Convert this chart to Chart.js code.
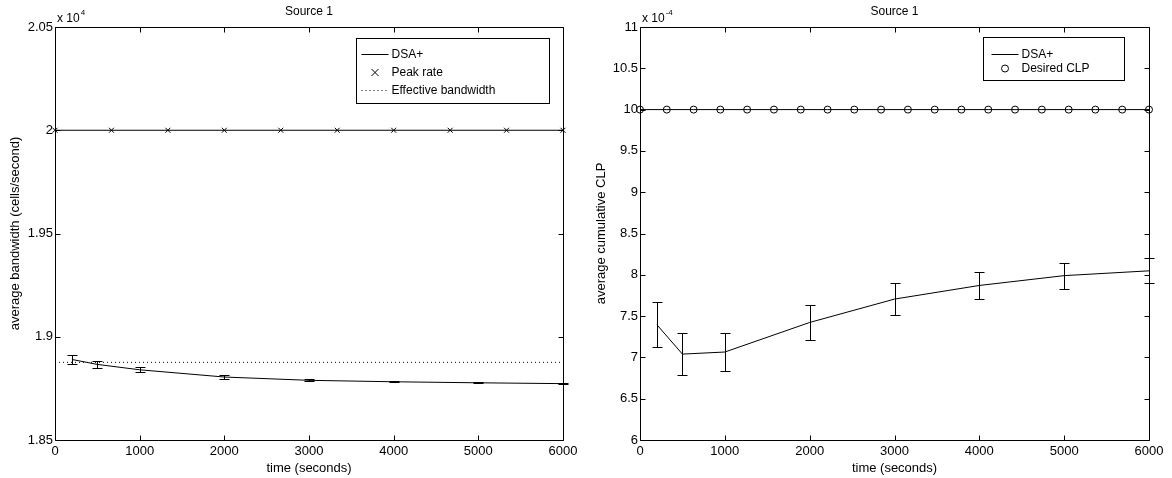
<!DOCTYPE html>
<html>
<head>
<meta charset="utf-8">
<script src="https://cdn.jsdelivr.net/npm/chart.js@4.4.1/dist/chart.umd.min.js"></script>
<style>
    html, body { margin: 0; padding: 0; background: #fff; }
    #wrap { position: relative; width: 1172px; height: 478px; }
    .pane { position: absolute; top: 0; width: 586px; height: 478px; }
</style>
</head>
<body>
<div id="wrap">
    <div class="pane" style="left:0"><canvas id="bw" width="586" height="478"></canvas></div>
    <div class="pane" style="left:586px"><canvas id="clp" width="586" height="478"></canvas></div>
</div>
<script>
// Shared x axis (time in seconds).
var timeTicks = [0, 1000, 2000, 3000, 4000, 5000, 6000];
var sampleTimes = [200, 500, 1000, 2000, 3000, 4000, 5000, 6000];

// Left panel: bandwidth, in units of 1e4 cells/second.
var bwTicks = [1.85, 1.9, 1.95, 2, 2.05];
var bandwidth = [1.8890, 1.8866, 1.8840, 1.8805, 1.8789, 1.8782, 1.8777, 1.8773];
var bandwidthErr = [0.0023, 0.0015, 0.0013, 0.0009, 0.0005, 0.0003, 0.0003, 0.0002];
var peakTimes = [0, 667, 1333, 2000, 2667, 3333, 4000, 4667, 5333, 6000];
var peakRate = [2, 2, 2, 2, 2, 2, 2, 2, 2, 2];
var effTimes = [0, 6000];
var effBandwidth = [1.8876, 1.8876];

// Right panel: cumulative CLP, in units of 1e-4.
var clpTicks = [6, 6.5, 7, 7.5, 8, 8.5, 9, 9.5, 10, 10.5, 11];
var clp = [7.395, 7.04, 7.065, 7.423, 7.706, 7.871, 7.99, 8.048];
var clpErr = [0.275, 0.25, 0.225, 0.21, 0.19, 0.167, 0.157, 0.15];
var desiredTimes = [0, 316, 632, 947, 1263, 1579, 1895, 2211, 2526, 2842,
    3158, 3474, 3789, 4105, 4421, 4737, 5053, 5368, 5684, 6000];
var desiredClp = [10, 10, 10, 10, 10, 10, 10, 10, 10, 10,
    10, 10, 10, 10, 10, 10, 10, 10, 10, 10];

var FONT = "'Liberation Sans', Arial, Helvetica, sans-serif";
Chart.defaults.font.family = FONT;
Chart.defaults.color = '#000';

function points(xs, ys) {
    return xs.map(function(x, i) { return {x: x, y: ys[i]}; });
}

// Vertical error bars with caps, for datasets that carry an "errors" array.
var errorBars = {
    id: 'errorBars',
    afterDatasetsDraw: function(chart) {
        var ctx = chart.ctx, xs = chart.scales.x, ys = chart.scales.y;
        ctx.save();
        ctx.strokeStyle = '#000';
        ctx.lineWidth = 1;
        chart.data.datasets.forEach(function(ds) {
            if (!ds.errors) { return; }
            ds.data.forEach(function(p, i) {
                var px = Math.round(xs.getPixelForValue(p.x)) + 0.5;
                var top = Math.round(ys.getPixelForValue(p.y + ds.errors[i])) + 0.5;
                var bot = Math.round(ys.getPixelForValue(p.y - ds.errors[i])) + 0.5;
                ctx.beginPath();
                ctx.moveTo(px, top); ctx.lineTo(px, bot);
                ctx.moveTo(px - 5, top); ctx.lineTo(px + 5, top);
                ctx.moveTo(px - 5, bot); ctx.lineTo(px + 5, bot);
                ctx.stroke();
            });
        });
        ctx.restore();
    }
};

// MATLAB style box: frame, inward ticks on all sides, title and exponent.
var matlabFrame = {
    id: 'matlabFrame',
    afterDatasetsDraw: function(chart, args, opts) {
        var ctx = chart.ctx, a = chart.chartArea;
        var xs = chart.scales.x, ys = chart.scales.y;
        var l = Math.round(a.left) + 0.5, r = Math.round(a.right) + 0.5;
        var t = Math.round(a.top) + 0.5, b = Math.round(a.bottom) + 0.5;
        ctx.save();
        ctx.strokeStyle = '#000';
        ctx.lineWidth = 1;
        ctx.beginPath();
        ctx.rect(l, t, r - l, b - t);
        xs.ticks.forEach(function(tk) {
            var px = Math.round(xs.getPixelForValue(tk.value)) + 0.5;
            ctx.moveTo(px, b); ctx.lineTo(px, b - 5);
            ctx.moveTo(px, t); ctx.lineTo(px, t + 5);
        });
        ys.ticks.forEach(function(tk) {
            var py = Math.round(ys.getPixelForValue(tk.value)) + 0.5;
            ctx.moveTo(l, py); ctx.lineTo(l + 5, py);
            ctx.moveTo(r, py); ctx.lineTo(r - 5, py);
        });
        ctx.stroke();

        ctx.fillStyle = '#000';
        ctx.textBaseline = 'middle';
        ctx.textAlign = 'center';
        ctx.font = '12px ' + FONT;
        ctx.fillText(opts.title, (a.left + a.right) / 2, 12);
        ctx.textAlign = 'left';
        ctx.font = '12px ' + FONT;
        ctx.fillText('x 10', a.left + 2, 19);
        var w = ctx.measureText('x 10').width;
        ctx.font = '8px ' + FONT;
        ctx.fillText(opts.exponent, a.left + 3 + w, 13);
        ctx.restore();
    }
};

// Boxed legend in the upper right corner of the axes.
var boxLegend = {
    id: 'boxLegend',
    afterDraw: function(chart, args, opts) {
        var ctx = chart.ctx, a = chart.chartArea;
        var bx = Math.round(a.right - opts.right - opts.width) + 0.5;
        var by = Math.round(a.top + opts.top) + 0.5;
        ctx.save();
        ctx.fillStyle = '#fff';
        ctx.strokeStyle = '#000';
        ctx.lineWidth = 1;
        ctx.fillRect(bx, by, opts.width, opts.height);
        ctx.strokeRect(bx, by, opts.width, opts.height);
        ctx.font = '12px ' + FONT;
        ctx.textBaseline = 'middle';
        ctx.textAlign = 'left';
        opts.items.forEach(function(item, i) {
            var cy = Math.round(by + opts.firstRow + i * opts.rowGap) + 0.5;
            var x0 = bx + opts.sampleLeft, x1 = x0 + 27, cx = (x0 + x1) / 2;
            ctx.beginPath();
            if (item.kind === 'line' || item.kind === 'dots') {
                ctx.setLineDash(item.kind === 'dots' ? [1, 3] : []);
                ctx.moveTo(x0, cy); ctx.lineTo(x1, cy);
            } else if (item.kind === 'cross') {
                ctx.moveTo(cx - 3.5, cy - 3.5); ctx.lineTo(cx + 3.5, cy + 3.5);
                ctx.moveTo(cx - 3.5, cy + 3.5); ctx.lineTo(cx + 3.5, cy - 3.5);
            } else if (item.kind === 'circle') {
                ctx.arc(cx, cy, 3.5, 0, Math.PI * 2);
            }
            ctx.stroke();
            ctx.setLineDash([]);
            ctx.fillStyle = '#000';
            ctx.fillText(item.label, x1 + 3, cy);
        });
        ctx.restore();
    }
};

function makeScales(yTicks, yTitle, yWidth) {
    return {
        x: {
            type: 'linear', min: timeTicks[0], max: timeTicks[timeTicks.length - 1],
            afterBuildTicks: function(s) { s.ticks = timeTicks.map(function(v) { return {value: v}; }); },
            afterFit: function(s) { s.height = 38; },
            grid: {display: false, drawTicks: false}, border: {display: false},
            ticks: {color: '#000', font: {size: 13}, padding: 4, maxRotation: 0, autoSkip: false,
                callback: function(v) { return String(v); }},
            title: {display: true, text: 'time (seconds)', color: '#000', font: {size: 13},
                padding: {top: 0, bottom: 2}}
        },
        y: {
            type: 'linear', min: yTicks[0], max: yTicks[yTicks.length - 1],
            afterBuildTicks: function(s) { s.ticks = yTicks.map(function(v) { return {value: v}; }); },
            afterFit: function(s) { s.width = yWidth; },
            grid: {display: false, drawTicks: false}, border: {display: false},
            ticks: {color: '#000', font: {size: 13}, padding: 2, autoSkip: false,
                callback: function(v) { return String(v); }},
            title: {display: true, text: yTitle, color: '#000', font: {size: 13},
                padding: {top: 8, bottom: 0}}
        }
    };
}

function baseOptions(scales, frame, legend) {
    return {
        responsive: false,
        animation: false,
        layout: {padding: {left: 0, right: 23, top: 27, bottom: 0}},
        scales: scales,
        plugins: {
            legend: {display: false},
            tooltip: {enabled: false},
            matlabFrame: frame,
            boxLegend: legend
        }
    };
}

new Chart(document.getElementById('bw'), {
    type: 'scatter',
    data: {
        datasets: [{
            label: 'DSA+',
            data: points(sampleTimes, bandwidth),
            errors: bandwidthErr,
            showLine: true, borderColor: '#000', borderWidth: 1, pointRadius: 0
        }, {
            label: 'Peak rate',
            data: points(peakTimes, peakRate),
            showLine: true, borderColor: '#000', borderWidth: 1, clip: false,
            pointStyle: 'crossRot', pointRadius: 3.5, pointBorderColor: '#000', pointBorderWidth: 1
        }, {
            label: 'Effective bandwidth',
            data: points(effTimes, effBandwidth),
            showLine: true, borderColor: '#000', borderWidth: 1, borderDash: [1, 3], pointRadius: 0
        }]
    },
    options: baseOptions(
        makeScales(bwTicks, 'average bandwidth (cells/second)', 55),
        {title: 'Source 1', exponent: '4'},
        {right: 14, top: 11, width: 193, height: 65, firstRow: 15, rowGap: 18, sampleLeft: 5,
            items: [{label: 'DSA+', kind: 'line'}, {label: 'Peak rate', kind: 'cross'},
                {label: 'Effective bandwidth', kind: 'dots'}]}
    ),
    plugins: [errorBars, matlabFrame, boxLegend]
});

new Chart(document.getElementById('clp'), {
    type: 'scatter',
    data: {
        datasets: [{
            label: 'DSA+',
            data: points(sampleTimes, clp),
            errors: clpErr,
            showLine: true, borderColor: '#000', borderWidth: 1, pointRadius: 0
        }, {
            label: 'Desired CLP',
            data: points(desiredTimes, desiredClp),
            showLine: true, borderColor: '#000', borderWidth: 1, clip: false,
            pointStyle: 'circle', pointRadius: 3.5, pointBorderColor: '#000',
            pointBackgroundColor: 'rgba(0,0,0,0)', pointBorderWidth: 1
        }]
    },
    options: baseOptions(
        makeScales(clpTicks, 'average cumulative CLP', 54),
        {title: 'Source 1', exponent: '-4'},
        {right: 25, top: 10, width: 141, height: 43, firstRow: 16, rowGap: 14, sampleLeft: 8,
            items: [{label: 'DSA+', kind: 'line'}, {label: 'Desired CLP', kind: 'circle'}]}
    ),
    plugins: [errorBars, matlabFrame, boxLegend]
});
</script>
</body>
</html>
